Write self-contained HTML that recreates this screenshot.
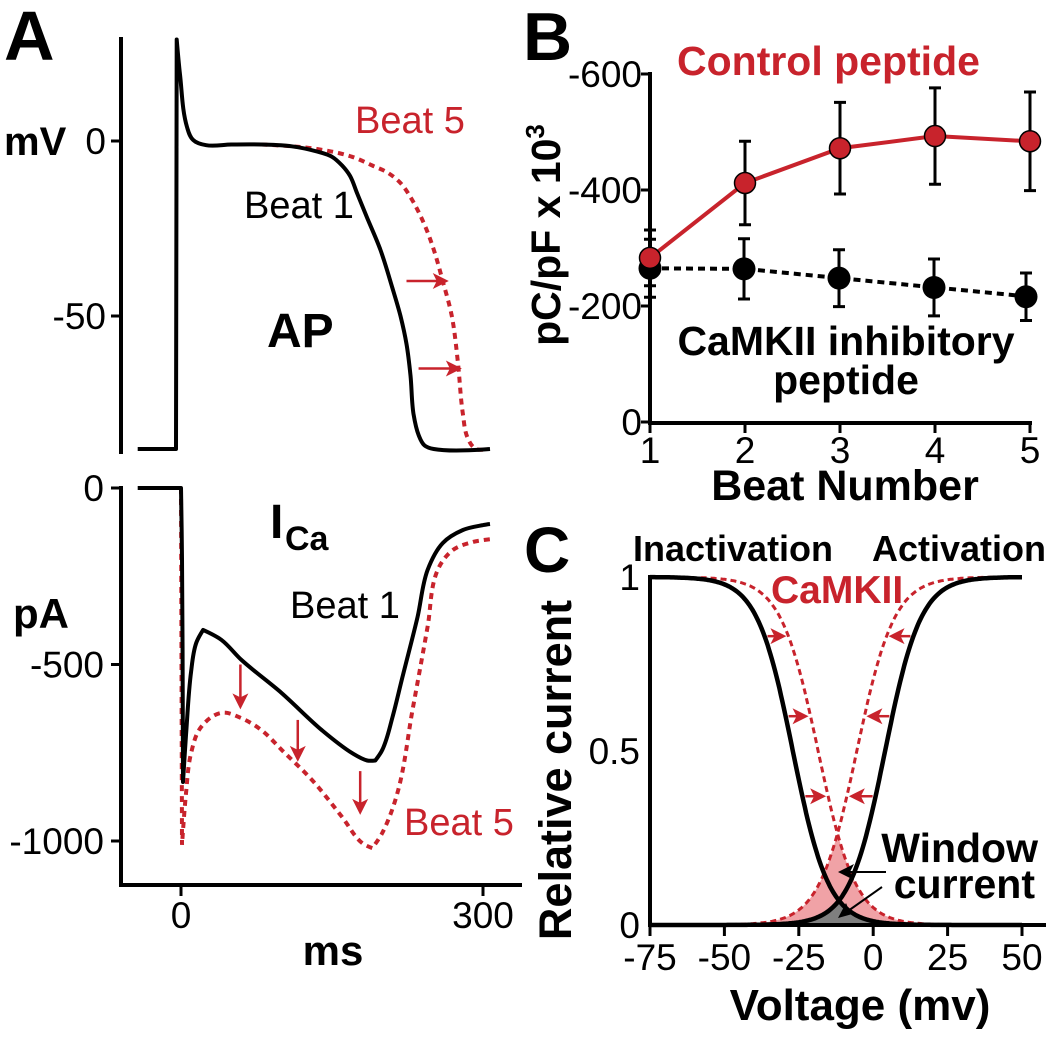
<!DOCTYPE html>
<html><head><meta charset="utf-8"><style>
html,body{margin:0;padding:0;background:#fff;}
svg{display:block;font-family:"Liberation Sans",Arial,sans-serif;}
</style></head><body>
<svg id="fig" width="1050" height="1038" viewBox="0 0 1050 1038">
<g id="A1"></g>
<g id="A2"></g>
<g id="B"></g>
<g id="C"></g>
</svg>
<script>
// ---------- Panel A data ----------
const apBeat1T = [-43,-5,-4.3,-1,6,12,25,50,80,110,135,150,160,168,175,185,198,210,218,224,228,231,236,242,251,307];
const apBeat1V = [-88,-88,29,19,4,0.3,-1.2,-1,-1,-1.5,-3,-4.5,-7,-10,-15,-22,-31,-42,-50,-58,-67,-78,-84,-87,-88,-88];
const apBeat5T = [80,110,140,170,190,205,218,230,242,251,260,269,275,280,285,293,305];
const apBeat5V = [-1,-1.5,-2.5,-4.5,-7,-9,-12,-17,-24,-31,-40,-50,-63,-78,-85,-88,-88];
const apArrowT1 = [224,266];
const apArrowT2 = [236,279];
const apArrowV = [-40,-65];
const icaBeat1T = [-43,0,1,2,5,10,15,22,40,60,100,140,170,185,193,200,210,220,235,245,260,280,300,307];
const icaBeat1I = [0,0,-200,-833,-700,-520,-440,-402,-430,-487,-581,-686,-751,-772,-772,-742,-650,-535,-365,-232,-156,-119,-105,-102];
const icaBeat5T = [0,1,5,10,20,40,60,80,100,130,160,180,190,200,215,230,245,255,270,290,307];
const icaBeat5I = [0,-1011,-865,-751,-677,-637,-652,-686,-742,-827,-932,-1006,-1020,-977,-864,-629,-393,-232,-176,-153,-145];
const icaArrowT = [59,116,178];
const icaArrowFrom = [-500,-657,-802];
const icaArrowTo = [-627,-776,-926];
// ---------- Panel B data ----------
const beats = [1,2,3,4,5];
const controlMean = [283,412,472,493,484];
const controlErr = [48,72,79,83,85];
const inhibMean = [265,264,248,232,216];
const inhibErr = [50,52,49,49,41];
const bTicks = [0,200,400,600];
const bTickLabels = ["0","-200","-400","-600"];
// ---------- Panel C data ----------
const inactHalf = [-27,-18.5];   // black, CaMKII
const actHalf = [4,-5.5];
const slopeK = [6,6.3];
const arrowLevels = [0.83,0.6,0.37];
const cXTicks = [-75,-50,-25,0,25,50];
const cYTicks = [0,0.5,1];
const cYTickLabels = ["0","0.5","1"];

const NS="http://www.w3.org/2000/svg";
function mk(parent,tag,attrs,text){const e=document.createElementNS(NS,tag);for(const k in attrs)e.setAttribute(k,attrs[k]);if(text!==undefined)e.textContent=text;parent.appendChild(e);return e;}
const RED="#c8232c";
function smooth(pts){
 const n=pts.length;
 const tang=pts.map((p,i)=>{
  if(i===0||i===n-1)return [0,0];
  const a=[p[0]-pts[i-1][0],p[1]-pts[i-1][1]],b=[pts[i+1][0]-p[0],pts[i+1][1]-p[1]];
  const la=Math.hypot(a[0],a[1]),lb=Math.hypot(b[0],b[1]);
  const cos=(a[0]*b[0]+a[1]*b[1])/(la*lb);
  if(cos<0.6)return [0,0];
  const u=[a[0]/la+b[0]/lb,a[1]/la+b[1]/lb],lu=Math.hypot(u[0],u[1]);
  return [u[0]/lu,u[1]/lu];
 });
 let d="M"+pts[0][0].toFixed(1)+","+pts[0][1].toFixed(1);
 for(let i=0;i<n-1;i++){
  const p1=pts[i],p2=pts[i+1],L=Math.hypot(p2[0]-p1[0],p2[1]-p1[1])/3;
  const c1=[p1[0]+tang[i][0]*L,p1[1]+tang[i][1]*L],c2=[p2[0]-tang[i+1][0]*L,p2[1]-tang[i+1][1]*L];
  d+="C"+c1[0].toFixed(1)+","+c1[1].toFixed(1)+" "+c2[0].toFixed(1)+","+c2[1].toFixed(1)+" "+p2[0].toFixed(1)+","+p2[1].toFixed(1);
 }
 return d;}
function arrowHead(g,x,y,dir,name){
 let p; if(dir==='r')p=[[x,y],[x-16,y-8],[x-12,y],[x-16,y+8]]; else if(dir==='l')p=[[x,y],[x+16,y-8],[x+12,y],[x+16,y+8]]; else p=[[x,y],[x-8,y-16],[x,y-12],[x+8,y-16]];
 const e=mk(g,'polygon',{points:p.map(q=>q.join(',')).join(' '),fill:g.getAttribute('data-col')||RED});
 
 
}
// ---------- Panel A ----------
const tx=t=>181+t*(302/300);
const vy=v=>141-v*3.5;
const iy=i=>488-i*(176.5/500);
(function(){
 const g=document.getElementById('A1');
 let e=mk(g,'text',{x:4,y:60,'font-size':70,'font-weight':'bold'},'A');
 e=mk(g,'line',{x1:121,y1:37,x2:121,y2:454,stroke:'#000','stroke-width':4});
 [[0,'0'],[-50,'-50']].forEach(([v,l])=>{e=mk(g,'line',{x1:111,y1:vy(v),x2:121,y2:vy(v),stroke:'#000','stroke-width':3});
  e=mk(g,'text',{x:106,y:vy(v)+13,'font-size':37,'text-anchor':'end'},l);});
 e=mk(g,'text',{x:4,y:155,'font-size':40,'font-weight':'bold'},'mV');
 e=mk(g,'path',{d:smooth(apBeat5T.map((t,i)=>[tx(t),vy(apBeat5V[i])])),fill:'none',stroke:RED,'stroke-width':4,'stroke-dasharray':'6,5'});
 e=mk(g,'path',{d:smooth(apBeat1T.map((t,i)=>[tx(t),vy(apBeat1V[i])])),fill:'none',stroke:'#000','stroke-width':4,'stroke-linejoin':'round'});
 [apArrowT1,apArrowT2].forEach((a,i)=>{const y=vy(apArrowV[i]);e=mk(g,'line',{x1:tx(a[0]),y1:y,x2:tx(a[1])-10,y2:y,stroke:RED,'stroke-width':2.5});arrowHead(g,tx(a[1]),y,'r','ap-arrow-head');});
 e=mk(g,'text',{x:355,y:133,'font-size':38,fill:RED},'Beat 5');
 e=mk(g,'text',{x:244,y:218,'font-size':38},'Beat 1');
 e=mk(g,'text',{x:267,y:347,'font-size':48,'font-weight':'bold'},'AP');
})();
(function(){
 const g=document.getElementById('A2');
 let e=mk(g,'line',{x1:121,y1:486,x2:121,y2:887,stroke:'#000','stroke-width':4});
 e=mk(g,'line',{x1:119,y1:885,x2:522,y2:885,stroke:'#000','stroke-width':4});
 [[0,'0'],[-500,'-500'],[-1000,'-1000']].forEach(([v,l])=>{e=mk(g,'line',{x1:111,y1:iy(v),x2:121,y2:iy(v),stroke:'#000','stroke-width':3});
  e=mk(g,'text',{x:104,y:iy(v)+13,'font-size':37,'text-anchor':'end'},l);});
 [[0,'0'],[300,'300']].forEach(([t,l])=>{e=mk(g,'line',{x1:tx(t),y1:885,x2:tx(t),y2:896,stroke:'#000','stroke-width':3});
  e=mk(g,'text',{x:tx(t),y:928,'font-size':37,'text-anchor':'middle'},l);});
 e=mk(g,'text',{x:333,y:965,'font-size':42,'font-weight':'bold','text-anchor':'middle'},'ms');
 e=mk(g,'text',{x:13,y:628,'font-size':42,'font-weight':'bold'},'pA');
 e=mk(g,'path',{d:smooth(icaBeat5T.map((t,i)=>[tx(t),iy(icaBeat5I[i])])),fill:'none',stroke:RED,'stroke-width':4,'stroke-dasharray':'6,5'});
 e=mk(g,'path',{d:smooth(icaBeat1T.map((t,i)=>[tx(t),iy(icaBeat1I[i])])),fill:'none',stroke:'#000','stroke-width':4,'stroke-linejoin':'round'});
 icaArrowT.forEach((t,i)=>{const x=tx(t);e=mk(g,'line',{x1:x,y1:iy(icaArrowFrom[i]),x2:x,y2:iy(icaArrowTo[i])-10,stroke:RED,'stroke-width':2.5});arrowHead(g,x,iy(icaArrowTo[i]),'d','ica-arrow-head');});
 e=mk(g,'text',{x:270,y:538,'font-size':48,'font-weight':'bold'},'I');
 e=mk(g,'text',{x:285,y:550,'font-size':34,'font-weight':'bold'},'Ca');
 e=mk(g,'text',{x:290,y:618,'font-size':38},'Beat 1');
 e=mk(g,'text',{x:404,y:835,'font-size':38,fill:RED},'Beat 5');
})();
// ---------- Panel B ----------
const bx=b=>650+(b-1)*95;
const by=v=>422-v*0.58;
(function(){
 const g=document.getElementById('B');
 let e=mk(g,'text',{x:523,y:60,'font-size':68,'font-weight':'bold'},'B');
 e=mk(g,'line',{x1:650,y1:72,x2:650,y2:425,stroke:'#000','stroke-width':4});
 e=mk(g,'line',{x1:648,y1:423,x2:1032,y2:423,stroke:'#000','stroke-width':4});
 bTicks.forEach((v,i)=>{e=mk(g,'line',{x1:641,y1:by(v),x2:650,y2:by(v),stroke:'#000','stroke-width':3});
  e=mk(g,'text',{x:642,y:by(v)+13,'font-size':37,'text-anchor':'end'},bTickLabels[i]);});
 beats.forEach(b=>{e=mk(g,'line',{x1:bx(b),y1:423,x2:bx(b),y2:433,stroke:'#000','stroke-width':3});
  e=mk(g,'text',{x:bx(b),y:463,'font-size':37,'text-anchor':'middle'},String(b));});
 e=mk(g,'text',{x:845,y:500,'font-size':43,'font-weight':'bold','text-anchor':'middle'},'Beat Number');
 const yt=mk(g,'text',{transform:'translate(560,235) rotate(-90)','font-size':41,'font-weight':'bold','text-anchor':'middle'});
 mk(yt,'tspan',{},'pC/pF x 10');mk(yt,'tspan',{'font-size':26,dy:-16},'3');
 e=mk(g,'polyline',{points:beats.map((b,i)=>bx(b)+','+by(inhibMean[i])).join(' '),fill:'none',stroke:'#000','stroke-width':4,'stroke-dasharray':'7,5'});
 beats.forEach((b,i)=>{const x=bx(b)-(i===4?4:i===0?0:1);e=mk(g,'path',{d:`M${x-6},${by(inhibMean[i]+inhibErr[i])}h12M${x},${by(inhibMean[i]+inhibErr[i])}V${by(inhibMean[i]-inhibErr[i])}M${x-6},${by(inhibMean[i]-inhibErr[i])}h12`,stroke:'#000','stroke-width':3,fill:'none'});
  e=mk(g,'circle',{cx:x,cy:by(inhibMean[i]),r:11.5,fill:'#000'});});
 e=mk(g,'polyline',{points:beats.map((b,i)=>bx(b)+','+by(controlMean[i])).join(' '),fill:'none',stroke:RED,'stroke-width':4});
 beats.forEach((b,i)=>{const x=bx(b);e=mk(g,'path',{d:`M${x-6},${by(controlMean[i]+controlErr[i])}h12M${x},${by(controlMean[i]+controlErr[i])}V${by(controlMean[i]-controlErr[i])}M${x-6},${by(controlMean[i]-controlErr[i])}h12`,stroke:'#000','stroke-width':3,fill:'none'});
  e=mk(g,'circle',{cx:x,cy:by(controlMean[i]),r:10.5,fill:RED,stroke:'#000','stroke-width':1.5});});
 e=mk(g,'text',{x:677,y:75,'font-size':41,'font-weight':'bold',fill:RED},'Control peptide');
 e=mk(g,'text',{x:846,y:355,'font-size':41,'font-weight':'bold','text-anchor':'middle'},'CaMKII inhibitory');
 e=mk(g,'text',{x:846,y:394,'font-size':41,'font-weight':'bold','text-anchor':'middle'},'peptide');
})();
// ---------- Panel C ----------
const cx=v=>650+(v+75)*(372/125);
const cy=r=>925-r*348;
const inact=(v,h,k)=>1/(1+Math.exp((v-h)/k));
const act=(v,h,k)=>1/(1+Math.exp(-(v-h)/k));
const invI=(r,h,k)=>h+k*Math.log(1/r-1);
const invA=(r,h,k)=>h-k*Math.log(1/r-1);
(function(){
 const g=document.getElementById('C');
 let e=mk(g,'text',{x:524,y:572,'font-size':64,'font-weight':'bold'},'C');
 const vs=[];for(let v=-75;v<=50.01;v+=0.5)vs.push(v);
 const fillPath=(h1,h2,k)=>'M'+cx(-75)+','+cy(0)+vs.map(v=>'L'+cx(v).toFixed(1)+','+cy(Math.min(inact(v,h1,k),act(v,h2,k))).toFixed(1)).join('')+'L'+cx(50)+','+cy(0)+'Z';
 e=mk(g,'path',{d:fillPath(inactHalf[1],actHalf[1],slopeK[1]),fill:'#f0a2a6'});
 e=mk(g,'path',{d:fillPath(inactHalf[0],actHalf[0],slopeK[0]),fill:'#7f7f7f'});
 const line=(f)=>'M'+vs.map(v=>cx(v).toFixed(1)+','+cy(f(v)).toFixed(1)).join('L');
 const vsR=vs.filter(v=>v>=-58&&v<=45);
 const lineR=(f)=>'M'+vsR.map(v=>cx(v).toFixed(1)+','+cy(f(v)).toFixed(1)).join('L');
 e=mk(g,'path',{d:lineR(v=>inact(v,inactHalf[1],slopeK[1])),fill:'none',stroke:RED,'stroke-width':3,'stroke-dasharray':'6,4'});
 e=mk(g,'path',{d:lineR(v=>act(v,actHalf[1],slopeK[1])),fill:'none',stroke:RED,'stroke-width':3,'stroke-dasharray':'6,4'});
 e=mk(g,'path',{d:line(v=>inact(v,inactHalf[0],slopeK[0])),fill:'none',stroke:'#000','stroke-width':4.5});
 e=mk(g,'path',{d:line(v=>act(v,actHalf[0],slopeK[0])),fill:'none',stroke:'#000','stroke-width':4.5});
 arrowLevels.forEach(r=>{const y=cy(r);
  const x1=cx(invI(r,inactHalf[0],slopeK[0]))+3,x2=cx(invI(r,inactHalf[1],slopeK[1]))-2;
  e=mk(g,'line',{x1:x1,y1:y,x2:x2-10,y2:y,stroke:RED,'stroke-width':2.5});arrowHead(g,x2,y,'r','arrow-head');
  const a1=cx(invA(r,actHalf[0],slopeK[0]))-3,a2=cx(invA(r,actHalf[1],slopeK[1]))+2;
  e=mk(g,'line',{x1:a1,y1:y,x2:a2+10,y2:y,stroke:RED,'stroke-width':2.5});arrowHead(g,a2,y,'l','arrow-head');});
 e=mk(g,'line',{x1:650,y1:575,x2:650,y2:927,stroke:'#000','stroke-width':4});
 e=mk(g,'line',{x1:648,y1:925,x2:1046,y2:925,stroke:'#000','stroke-width':4});
 cYTicks.forEach((r,i)=>{e=mk(g,'text',{x:640,y:cy(r)+13,'font-size':37,'text-anchor':'end'},cYTickLabels[i]);});
 cXTicks.forEach(v=>{e=mk(g,'line',{x1:cx(v),y1:925,x2:cx(v),y2:936,stroke:'#000','stroke-width':3});
  e=mk(g,'text',{x:cx(v),y:970,'font-size':37,'text-anchor':'middle'},String(v));});
 e=mk(g,'text',{x:860,y:1020,'font-size':44,'font-weight':'bold','text-anchor':'middle'},'Voltage (mv)');
 e=mk(g,'text',{transform:'translate(571,770) rotate(-90)','font-size':45,'font-weight':'bold','text-anchor':'middle'},'Relative current');
 e=mk(g,'text',{x:633,y:561,'font-size':36,'font-weight':'bold'},'Inactivation');
 e=mk(g,'text',{x:1046,y:561,'font-size':36,'font-weight':'bold','text-anchor':'end'},'Activation');
 e=mk(g,'text',{x:771,y:603,'font-size':39,'font-weight':'bold',fill:RED},'CaMKII');
 e=mk(g,'text',{x:1038,y:862,'font-size':41,'font-weight':'bold','text-anchor':'end'},'Window');
 e=mk(g,'text',{x:1035,y:898,'font-size':41,'font-weight':'bold','text-anchor':'end'},'current');
 const bg=mk(g,'g',{'data-col':'#000'});
 e=mk(bg,'line',{x1:886,y1:872,x2:850,y2:872,stroke:'#000','stroke-width':2});
 arrowHead(bg,838,872,'l','window-pointer-head');
 e=mk(bg,'line',{x1:882,y1:887,x2:848,y2:911,stroke:'#000','stroke-width':2});
 e=mk(bg,'polygon',{points:'838,918 846,903 849,910 856,913',fill:'#000'});
})();
</script>
</body></html>
